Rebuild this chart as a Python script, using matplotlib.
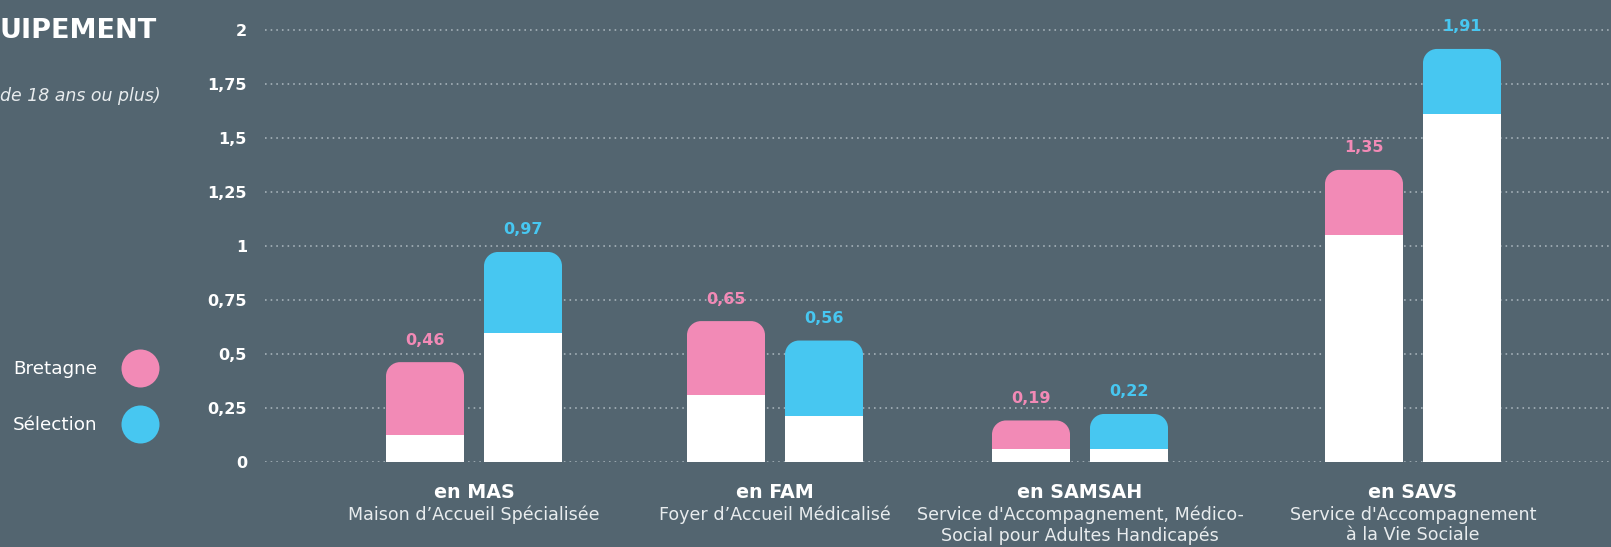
import matplotlib
matplotlib.use("Agg")
import matplotlib.pyplot as plt
from matplotlib.path import Path
from matplotlib.patches import PathPatch, Circle
from matplotlib.ticker import FuncFormatter

# ---- data ----
categories = ["en MAS", "en FAM", "en SAMSAH", "en SAVS"]
descriptions = ["Maison d\u2019Accueil Sp\u00e9cialis\u00e9e",
                "Foyer d\u2019Accueil M\u00e9dicalis\u00e9",
                "Service d'Accompagnement, M\u00e9dico-\nSocial pour Adultes Handicap\u00e9s",
                "Service d'Accompagnement\n\u00e0 la Vie Sociale"]
bretagne = [0.46, 0.65, 0.19, 1.35]
selection = [0.97, 0.56, 0.22, 1.91]
bretagne_inner = [0.125, 0.31, 0.06, 1.05]
selection_inner = [0.595, 0.21, 0.06, 1.61]
yticks = [0, 0.25, 0.5, 0.75, 1, 1.25, 1.5, 1.75, 2]
series_names = ["Bretagne", "S\u00e9lection"]
title_visible = "UIPEMENT"
subtitle_visible = "de 18 ans ou plus)"

# ---- style ----
BG = "#536570"
PINK = "#F28AB6"
BLUE = "#47C7F1"
GRID = "#98A5AD"
FONT = "DejaVu Sans"
W, H = 1611, 547

fig = plt.figure(figsize=(W / 100, H / 100), dpi=100, facecolor=BG)

def fx(x):
    return x / W

def fy(y):
    return 1 - y / H

# axes: x in pixel units, y: 0 at px 461.5, 1 unit = 216 px
y0_px = 461.5
unit = 216.0
ymax = 2.12
ax_left, ax_right = 265, 1611
ax = fig.add_axes([fx(ax_left), fy(y0_px), (ax_right - ax_left) / W, ymax * unit / H])
ax.set_facecolor(BG)
ax.set_xlim(ax_left, ax_right)
ax.set_ylim(0, ymax)
for s in ax.spines.values():
    s.set_visible(False)
ax.set_xticks([])
ax.set_yticks(yticks)
ax.yaxis.set_major_formatter(FuncFormatter(lambda v, p: ("%g" % v).replace(".", ",")))
ax.tick_params(axis="y", length=0, pad=13, labelsize=11.5, labelcolor="white")
for lab in ax.get_yticklabels():
    lab.set_fontfamily(FONT)
    lab.set_fontweight("bold")
ax.yaxis.grid(True, color=GRID, linestyle=(0, (0.8, 2.0)), linewidth=1.45,
              dash_capstyle="butt")
ax.set_axisbelow(True)

centers = [474, 775, 1080, 1413]
offset = 49
bw = 78
r_px = 14
rx = r_px
ry = r_px / unit
k = 0.5523

def rounded_top(x0, x1, y0, y1):
    verts = [(x0, y0), (x0, y1 - ry),
             (x0, y1 - ry + k * ry), (x0 + rx - k * rx, y1), (x0 + rx, y1),
             (x1 - rx, y1),
             (x1 - rx + k * rx, y1), (x1, y1 - ry + k * ry), (x1, y1 - ry),
             (x1, y0), (x0, y0)]
    codes = [Path.MOVETO, Path.LINETO,
             Path.CURVE4, Path.CURVE4, Path.CURVE4,
             Path.LINETO,
             Path.CURVE4, Path.CURVE4, Path.CURVE4,
             Path.LINETO, Path.CLOSEPOLY]
    return Path(verts, codes)

for vals, inner, col, sign in [(bretagne, bretagne_inner, PINK, -1),
                               (selection, selection_inner, BLUE, 1)]:
    xs = [c + sign * offset for c in centers]
    bars = ax.bar(xs, vals, width=bw, color=col, zorder=2)
    for rect, v in zip(bars, vals):
        x0 = rect.get_x()
        x1 = x0 + rect.get_width()
        h = rect.get_height()
        rect.set_visible(False)
        ax.add_patch(PathPatch(rounded_top(x0, x1, 0, h), facecolor=col,
                               edgecolor="none", zorder=2))
        ax.text(x0 + rect.get_width() / 2, h + 22 / unit, ("%.2f" % v).replace(".", ","),
                ha="center", va="center", color=col, fontsize=11.5,
                fontfamily=FONT, fontweight="bold", clip_on=False)
    ax.bar(xs, inner, width=bw, color="white", zorder=3)

# category labels
for c, cat, desc in zip(centers, categories, descriptions):
    fig.text(fx(c), fy(493), cat, ha="center", va="center", color="white",
             fontsize=13.8, fontfamily=FONT, fontweight="bold")
    fig.text(fx(c), fy(506), desc, ha="center", va="top", color="#E8ECEE",
             fontsize=12.6, fontfamily=FONT, linespacing=1.15)

# title (left part is cut off in the reference)
fig.text(fx(0), fy(31), title_visible, ha="left", va="center",
         color="white", fontsize=19.5, fontfamily=FONT, fontweight="bold")
fig.text(fx(0), fy(96), subtitle_visible, ha="left",
         va="center", color="#E8ECEE", fontsize=12.5, fontfamily=FONT,
         style="italic")

# legend
for name, col, ycen in zip(series_names, [PINK, BLUE], [368.5, 424.5]):
    fig.text(fx(97), fy(ycen), name, ha="right", va="center", color="white",
             fontsize=13.2, fontfamily=FONT)
    fig.patches.append(Circle((140.5, H - ycen), 19, transform=None,
                              facecolor=col, edgecolor="none", figure=fig))

fig.savefig("out.png", dpi=100, facecolor=BG)
